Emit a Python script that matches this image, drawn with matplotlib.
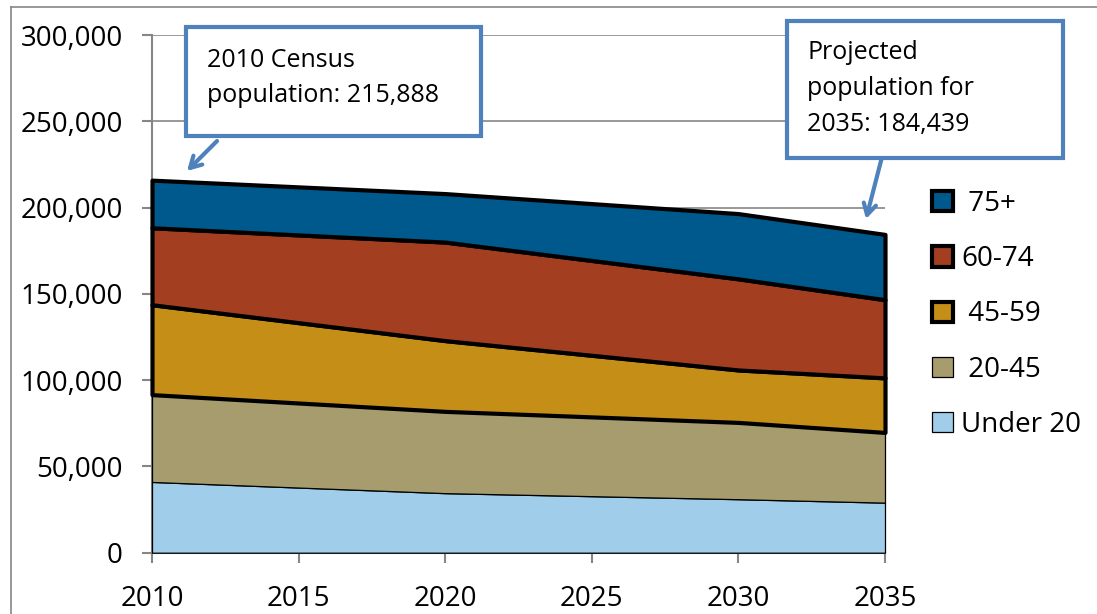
import matplotlib.pyplot as plt
from matplotlib.patches import Rectangle
from matplotlib.lines import Line2D
from matplotlib.ticker import FuncFormatter

plt.rcParams['font.family'] = ['Open Sans', 'DejaVu Sans']

# data
years = [2010, 2020, 2030, 2035]
under20 = [41000, 34500, 31000, 29000]
age20_45 = [50600, 47400, 44500, 40700]
age45_59 = [52100, 41000, 30400, 31600]
age60_74 = [44600, 57100, 52800, 45300]
age75 = [27588, 28100, 37800, 37839]

labels = ['Under 20', ' 20-45', ' 45-59', '60-74', ' 75+']
colors = ['#9FCDEA', '#A69C6E', '#C58F17', '#A33E21', '#00598C']
widths = [0.9, 0.9, 3, 3, 3]

W, H = 1097, 614
fig = plt.figure(figsize=(W / 100, H / 100), dpi=100)
ax = fig.add_axes([152 / W, (H - 552.7) / H, (885 - 152) / W, (552.7 - 35) / H])

polys = ax.stackplot(years, under20, age20_45, age45_59, age60_74, age75,
                     colors=colors, edgecolor='black', labels=labels)
for p, lw in zip(polys, widths):
    p.set_linewidth(lw)
    p.set_clip_on(False)
    p.set_zorder(3)

grey = '#868686'
ax.set_xlim(2010, 2035)
ax.set_ylim(0, 300000)
ax.set_xticks(range(2010, 2036, 5))
ax.set_yticks(range(0, 300001, 50000))
ax.yaxis.set_major_formatter(FuncFormatter(lambda v, pos: f'{int(v):,}'))
ax.grid(axis='y', color=grey, linewidth=1.2)
ax.set_axisbelow(True)
for s in ['top', 'right']:
    ax.spines[s].set_visible(False)
for s in ['left', 'bottom']:
    ax.spines[s].set_color(grey)
    ax.spines[s].set_linewidth(1.5)
ax.tick_params(axis='both', colors=grey, labelcolor='black', labelsize=20,
               length=7, width=1.5, direction='out')
ax.tick_params(axis='y', pad=14)
ax.tick_params(axis='x', pad=16)

handles, labs = ax.get_legend_handles_labels()
ax.legend(handles[::-1], labs[::-1], loc='upper left',
          bbox_to_anchor=(932 / W, 1 - 190 / H), bbox_transform=fig.transFigure,
          frameon=False, fontsize=20, handlelength=0.75, handleheight=0.75,
          handletextpad=0.3, labelspacing=0.98, borderpad=0, borderaxespad=0)

# chart area frame (left and top edges visible)
fig.add_artist(Line2D([11 / W, 11 / W], [0, 1 - 7 / H], color=grey, lw=1.2))
fig.add_artist(Line2D([11 / W, 1], [1 - 7 / H, 1 - 7 / H], color=grey, lw=1.2))

blue = '#4F81BD'


def callout(x0, y0, x1, y1, lines, tx, baselines, arrow_from, arrow_to):
    fig.add_artist(Rectangle((x0 / W, 1 - y1 / H), (x1 - x0) / W, (y1 - y0) / H,
                             transform=fig.transFigure, facecolor='white',
                             edgecolor=blue, linewidth=3, zorder=5))
    for line, by in zip(lines, baselines):
        fig.text(tx / W, 1 - by / H, line, fontsize=18, va='baseline',
                 ha='left', zorder=6)
    ax.annotate('', xy=(arrow_to[0] / W, 1 - arrow_to[1] / H),
                xytext=(arrow_from[0] / W, 1 - arrow_from[1] / H),
                xycoords='figure fraction', textcoords='figure fraction',
                arrowprops=dict(arrowstyle='->,head_length=0.8,head_width=0.45',
                                color=blue, lw=3, shrinkA=0, shrinkB=0),
                annotation_clip=False)


callout(186, 27, 481, 136, ['2010 Census', 'population: 215,888'], 207,
        [67, 102], (217, 141), (187, 171))
callout(787, 21, 1063, 158, ['Projected', 'population for', '2035: 184,439'],
        807, [59, 95, 131], (882, 157), (866, 219))

fig.savefig('out.png', dpi=100)
